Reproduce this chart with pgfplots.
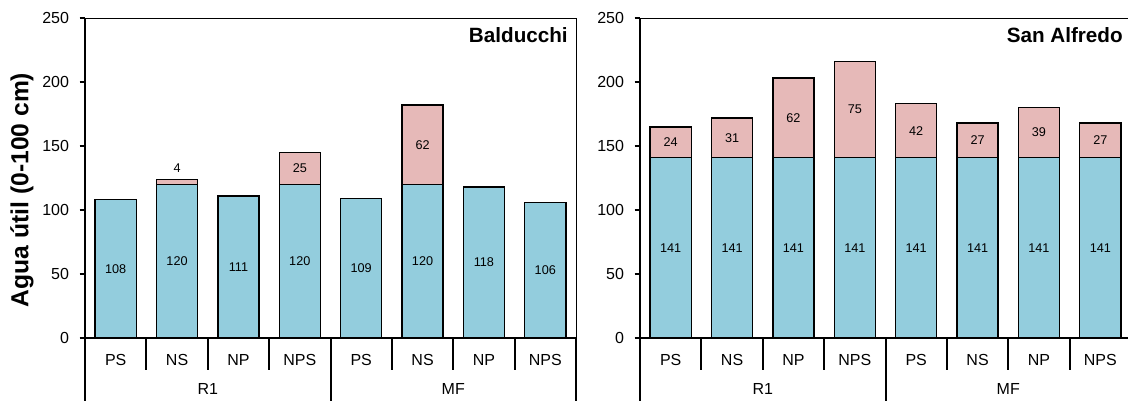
\documentclass[border=0pt]{standalone}
\usepackage{fontspec}
\setmainfont{Liberation Sans}
\usepackage{pgfplots}
\pgfplotsset{compat=1.18}
\definecolor{barblue}{HTML}{93CDDD}
\definecolor{barpink}{HTML}{E6B9B8}

\pgfplotsset{
  panel/.style={
    scale only axis, width=368.25pt, height=240pt,
    anchor=south west,
    xmin=-0.5, xmax=7.5, ymin=0, ymax=250,
    clip=false,
    axis line style={line width=0.6pt},
    ytick={0,50,100,150,200,250},
    ytick pos=left,
    tick align=outside,
    major tick length=4pt,
    ytick style={line width=1.5pt, black},
    xtick={0,...,7},
    xticklabels={PS,NS,NP,NPS,PS,NS,NP,NPS},
    xtick style={draw=none},
    xtick pos=bottom,
    extra x ticks={1.5,5.5},
    extra x tick labels={R1,MF},
    extra x tick style={xtick style={draw=none}, xticklabel style={yshift=-21.75pt}},
    xticklabel style={anchor=center, yshift=-12.75pt, font=\fontsize{12}{14}\selectfont},
    yticklabel style={font=\fontsize{12}{14}\selectfont, xshift=-4.5pt},
    /pgf/number format/assume math mode=true,
    nodes near coords style={anchor=center, font=\fontsize{9.5}{11}\selectfont},
  },
  bluebar/.style={ybar, bar width=0.67, bar shift=0pt, fill=barblue, draw=black, line width=1.1pt},
  pinkbar/.style={ybar, bar width=0.67, bar shift=0pt, fill=barpink, draw=black, line width=1.1pt},
  labs/.style={draw=none, mark=none, nodes near coords, point meta=explicit symbolic},
}

\newcommand{\decor}{%
  \draw[line width=1.5pt] (rel axis cs:0,1) -- (rel axis cs:0,0) -- (rel axis cs:1,0);
  \pgfplotsinvokeforeach{0.5,1.5,2.5,4.5,5.5,6.5}{\draw[line width=1.5pt] (axis cs:##1,0) -- ++(0pt,-24pt);}
  \pgfplotsinvokeforeach{-0.5,3.5,7.5}{\draw[line width=1.5pt] (axis cs:##1,0) -- ++(0pt,-47.25pt);}
}

\begin{document}
\begin{tikzpicture}
% ---------------- Balducchi ----------------
\begin{axis}[panel, at={(63.75pt,47.25pt)},
  ylabel={Agua útil (0-100 cm)},
  every axis y label/.style={at={(rel axis cs:0,0.4625)}, xshift=-47.25pt, rotate=90, anchor=center,
    font=\bfseries\fontsize{18.5}{20}\selectfont},
]
\addplot[pinkbar] table {
x y
1 124
3 145
5 182
};
\addplot[bluebar] table {
x y
0 108
1 120
2 111
3 120
4 109
5 120
6 118
7 106
};
\addplot[labs] table[meta=lab] {
x y lab
0 54 108
1 60 120
2 55.5 111
3 60 120
4 54.5 109
5 60 120
6 59 118
7 53 106
1 133 4
3 132.5 25
5 151 62
};
\decor
\node[anchor=east, inner sep=0pt, font=\bfseries\fontsize{15.5}{17}\selectfont] at (rel axis cs:1,1) [xshift=-6pt, yshift=-12.75pt] {Balducchi};
\end{axis}
% ---------------- San Alfredo ----------------
\begin{axis}[panel, at={(480pt,47.25pt)}]
\addplot[pinkbar] table {
x y
0 165
1 172
2 203
3 216
4 183
5 168
6 180
7 168
};
\addplot[bluebar] table {
x y
0 141
1 141
2 141
3 141
4 141
5 141
6 141
7 141
};
\addplot[labs] table[meta=lab] {
x y lab
0 70.5 141
1 70.5 141
2 70.5 141
3 70.5 141
4 70.5 141
5 70.5 141
6 70.5 141
7 70.5 141
0 153 24
1 156.5 31
2 172 62
3 178.5 75
4 162 42
5 154.5 27
6 160.5 39
7 154.5 27
};
\decor
\node[anchor=east, inner sep=0pt, font=\bfseries\fontsize{15.5}{17}\selectfont] at (rel axis cs:1,1) [xshift=-6pt, yshift=-12.75pt] {San Alfredo};
\end{axis}
\pgfresetboundingbox
\path[use as bounding box] (0,0) rectangle (846pt,300.75pt);
\end{tikzpicture}
\end{document}
